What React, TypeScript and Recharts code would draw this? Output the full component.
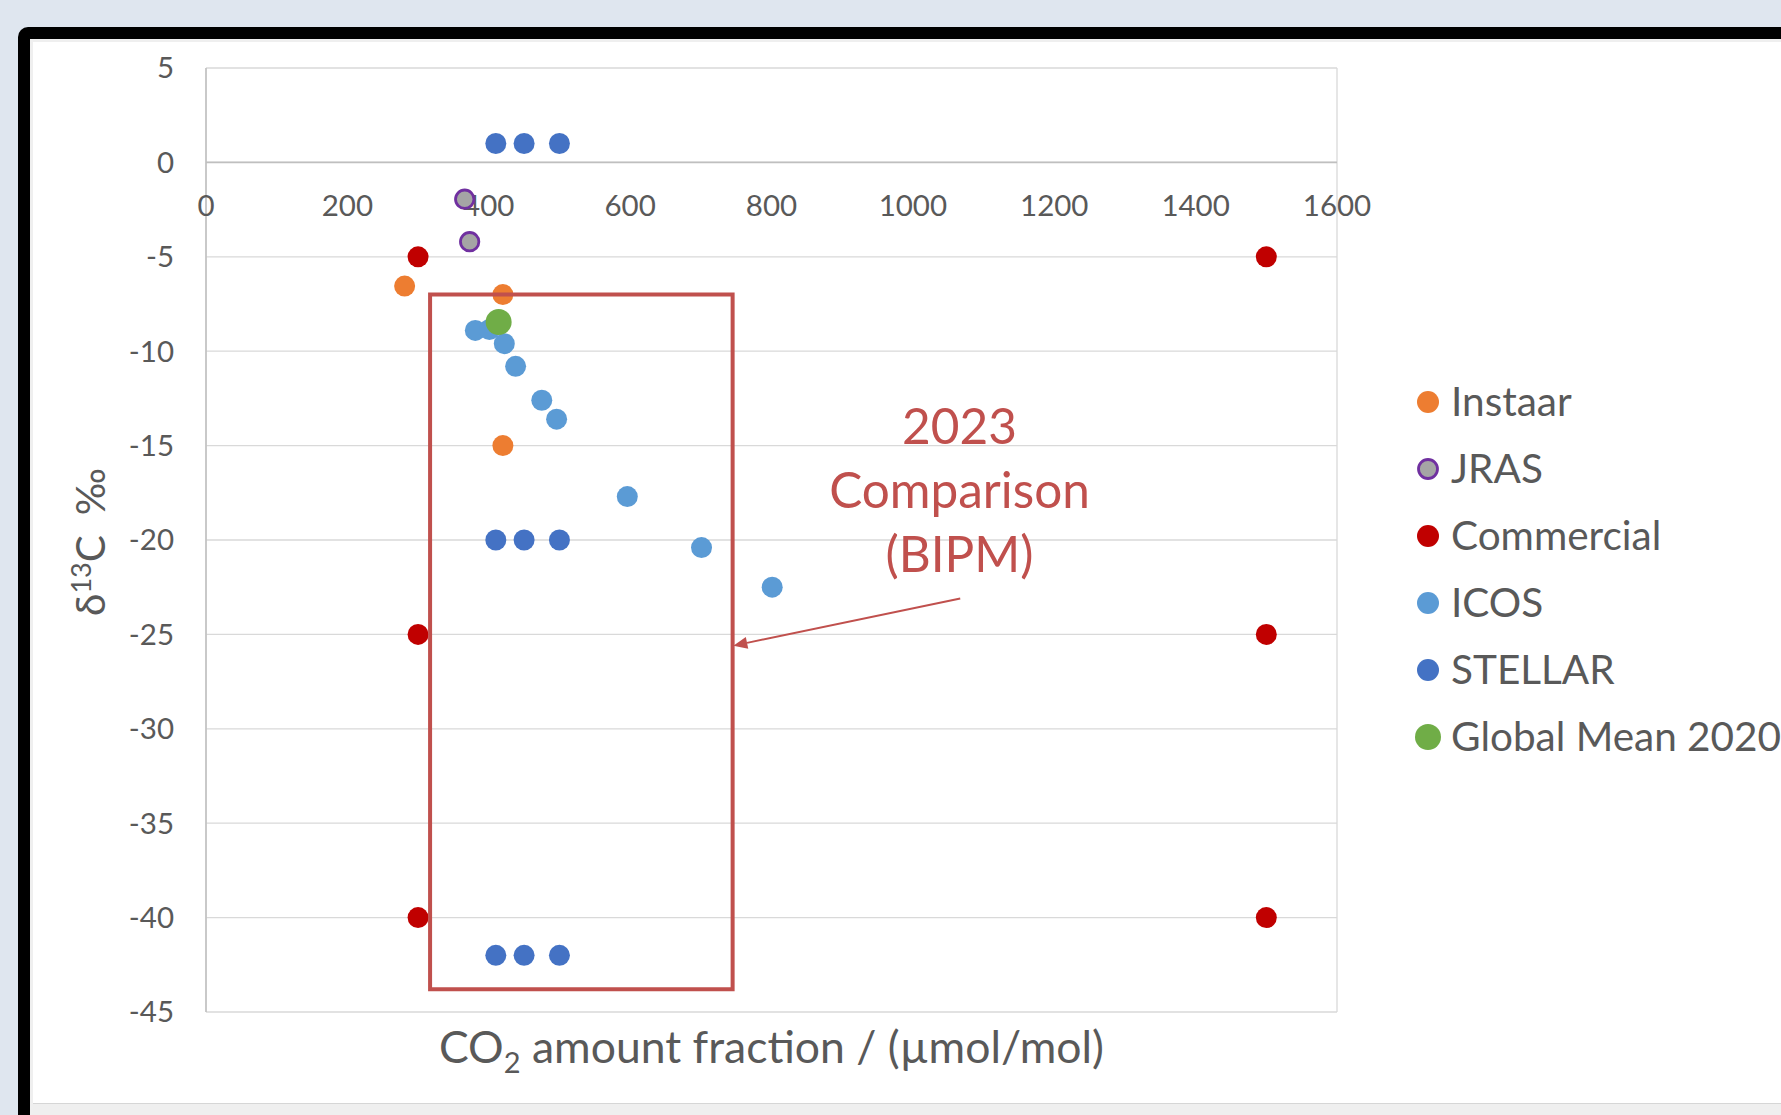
import React from 'react';
import {
  ScatterChart,
  Scatter,
  XAxis,
  YAxis,
  CartesianGrid,
  ReferenceLine,
  ReferenceArea,
  ReferenceDot,
  Legend,
} from 'recharts';

// ---------- data ----------
const xTicks = [0, 200, 400, 600, 800, 1000, 1200, 1400, 1600];
const yTicks = [-45, -40, -35, -30, -25, -20, -15, -10, -5, 0, 5];

const instaarData = [
  { x: 281, y: -6.55 },
  { x: 420, y: -7.0 },
  { x: 420, y: -15.0 },
];
const jrasData = [
  { x: 366, y: -1.95 },
  { x: 373, y: -4.2 },
];
const commercialData = [
  { x: 300, y: -5 },
  { x: 300, y: -25 },
  { x: 300, y: -40 },
  { x: 1500, y: -5 },
  { x: 1500, y: -25 },
  { x: 1500, y: -40 },
];
const icosData = [
  { x: 381, y: -8.9 },
  { x: 401, y: -8.85 },
  { x: 422, y: -9.6 },
  { x: 438, y: -10.8 },
  { x: 475, y: -12.6 },
  { x: 496, y: -13.6 },
  { x: 596, y: -17.7 },
  { x: 701, y: -20.4 },
  { x: 801, y: -22.5 },
];
const stellarData = [
  { x: 410, y: 1 },
  { x: 450, y: 1 },
  { x: 500, y: 1 },
  { x: 410, y: -20 },
  { x: 450, y: -20 },
  { x: 500, y: -20 },
  { x: 410, y: -42 },
  { x: 450, y: -42 },
  { x: 500, y: -42 },
];
const globalMeanData = [{ x: 414, y: -8.45 }];

const comparisonBox = { x1: 317, x2: 745, y1: -43.8, y2: -7.0 };
const annotationLines = ['2023', 'Comparison', '(BIPM)'];
const annotationAnchor = { x: 1066, y: -18.3 };
const arrowSegment = [
  { x: 1067, y: -23.1 },
  { x: 746, y: -25.6 },
];

// ---------- styles ----------
const FONT = 'Lato, "Open Sans", sans-serif';
const TEXT = '#595959';
const ANNOT = '#c0504d';

type SeriesDef = {
  name: string;
  data: { x: number; y: number }[];
  fill: string;
  stroke: string;
  sw: number;
  r: number;
};

const series: SeriesDef[] = [
  { name: 'Instaar', data: instaarData, fill: '#ed7d31', stroke: 'none', sw: 0, r: 10.5 },
  { name: 'JRAS', data: jrasData, fill: '#a5a5a5', stroke: '#7030a0', sw: 2.8, r: 9.2 },
  { name: 'Commercial', data: commercialData, fill: '#c00000', stroke: 'none', sw: 0, r: 10.5 },
  { name: 'ICOS', data: icosData, fill: '#5b9bd5', stroke: 'none', sw: 0, r: 10.5 },
  { name: 'STELLAR', data: stellarData, fill: '#4472c4', stroke: 'none', sw: 0, r: 10.5 },
  { name: 'Global Mean 2020', data: globalMeanData, fill: '#70ad47', stroke: 'none', sw: 0, r: 13 },
];

const XTitle = (props: any) => {
  const vb = props.viewBox || {};
  const cx = vb.x + vb.width / 2;
  const y = vb.y + 51;
  return (
    <text x={cx} y={y} textAnchor="middle" fill={TEXT} fontSize={44.5} fontFamily={FONT}>
      CO
      <tspan fontSize={29} dy={10}>2</tspan>
      <tspan dy={-10}> amount fraction / (µmol/mol)</tspan>
    </text>
  );
};

const YTitle = (props: any) => {
  const vb = props.viewBox || {};
  const x = vb.x + 105;
  const y = vb.y + vb.height / 2 + 2;
  return (
    <text
      x={x}
      y={y}
      textAnchor="middle"
      fill={TEXT}
      fontSize={40.5}
      fontFamily={FONT}
      transform={`rotate(-90, ${x}, ${y})`}
    >
      δ
      <tspan fontSize={27} dy={-14}>13</tspan>
      <tspan dy={14}>C</tspan>
      <tspan dx={20}>‰</tspan>
    </text>
  );
};

const Arrow = (p: any) => {
  const { x1, y1, x2, y2 } = p;
  const dx = x2 - x1;
  const dy = y2 - y1;
  const len = Math.hypot(dx, dy) || 1;
  const ux = dx / len;
  const uy = dy / len;
  const L = 14;
  const W = 6;
  const bx = x2 - ux * L;
  const by = y2 - uy * L;
  const pts = `${x2},${y2} ${bx - uy * W},${by + ux * W} ${bx + uy * W},${by - ux * W}`;
  return (
    <g>
      <line x1={x1} y1={y1} x2={bx} y2={by} stroke={ANNOT} strokeWidth={2} />
      <polygon points={pts} fill={ANNOT} />
    </g>
  );
};

const LegendContent = () => (
  <div style={{ fontFamily: FONT, color: TEXT, fontSize: 40.5 }}>
    {series.map((s) => (
      <div
        key={s.name}
        style={{ display: 'flex', alignItems: 'center', height: 67, whiteSpace: 'nowrap' }}
      >
        <svg width={26} height={26} style={{ flex: 'none' }}>
          <circle
            cx={13}
            cy={13}
            r={s.name === 'Global Mean 2020' ? 13 : s.sw ? 9.5 : 11}
            fill={s.fill}
            stroke={s.stroke}
            strokeWidth={s.sw}
          />
        </svg>
        <span style={{ marginLeft: 10, lineHeight: 1 }}>{s.name}</span>
      </div>
    ))}
  </div>
);

export default function App() {
  return (
    <div
      style={{
        position: 'absolute',
        left: 0,
        top: 0,
        width: 1781,
        height: 1115,
        overflow: 'hidden',
        background: '#dfe6ef',
      }}
    >
      {/* frame */}
      <div
        style={{
          position: 'absolute',
          left: 18,
          top: 27,
          width: 1800,
          height: 1120,
          background: '#000',
          borderTopLeftRadius: 10,
        }}
      />
      <div
        style={{
          position: 'absolute',
          left: 30,
          top: 39,
          width: 1800,
          height: 1120,
          background: '#efefef',
        }}
      />
      <div
        style={{
          position: 'absolute',
          left: 33,
          top: 42,
          width: 1800,
          height: 1061,
          background: '#fff',
          borderBottom: '1px solid #d6d6d6',
        }}
      />
      <div style={{ position: 'absolute', left: 0, top: 0 }}>
        <ScatterChart
          width={1781}
          height={1115}
          margin={{ top: 68, right: 444, bottom: 0, left: 0 }}
          style={{ fontFamily: FONT }}
        >
          <CartesianGrid stroke="#d9d9d9" strokeWidth={1.3} />
          <XAxis
            type="number"
            dataKey="x"
            domain={[0, 1600]}
            ticks={xTicks}
            allowDataOverflow
            height={103}
            tick={false}
            tickLine={false}
            axisLine={false}
            label={<XTitle />}
          />
          <YAxis
            type="number"
            dataKey="y"
            domain={[-45, 5]}
            ticks={yTicks}
            allowDataOverflow
            width={206}
            tickSize={0}
            tickMargin={32}
            tickLine={false}
            axisLine={{ stroke: '#bfbfbf', strokeWidth: 1.5 }}
            tick={{ fontSize: 29.5, fill: TEXT, fontFamily: FONT }}
            label={<YTitle />}
          />
          <ReferenceLine y={0} stroke="#bfbfbf" strokeWidth={1.6} />
          {xTicks.map((t) => (
            <ReferenceDot
              key={`xt-${t}`}
              x={t}
              y={0}
              r={0}
              fill="none"
              stroke="none"
              ifOverflow="visible"
              label={(p: any) => (
                <text
                  x={p.viewBox.x + (p.viewBox.width || 0) / 2}
                  y={p.viewBox.y + 54}
                  textAnchor="middle"
                  fill={TEXT}
                  fontSize={29.5}
                  fontFamily={FONT}
                >
                  {t}
                </text>
              )}
            />
          ))}
          {series.map((s) => (
            <Scatter
              key={s.name}
              name={s.name}
              data={s.data}
              fill={s.fill}
              isAnimationActive={false}
              shape={(p: any) => (
                <circle
                  cx={p.cx}
                  cy={p.cy}
                  r={s.r}
                  fill={s.fill}
                  stroke={s.stroke}
                  strokeWidth={s.sw}
                />
              )}
            />
          ))}
          <ReferenceArea
            x1={comparisonBox.x1}
            x2={comparisonBox.x2}
            y1={comparisonBox.y1}
            y2={comparisonBox.y2}
            fill="none"
            fillOpacity={0}
            stroke={ANNOT}
            strokeWidth={4}
            strokeOpacity={1}
            ifOverflow="visible"
            zIndex={700}
          />
          <ReferenceLine
            segment={arrowSegment}
            stroke={ANNOT}
            strokeWidth={2}
            ifOverflow="visible"
            shape={Arrow}
            zIndex={700}
          />
          <ReferenceDot
            x={annotationAnchor.x}
            y={annotationAnchor.y}
            r={0}
            fill="none"
            stroke="none"
            ifOverflow="visible"
            zIndex={700}
            label={(p: any) => {
              const cx = p.viewBox.x + (p.viewBox.width || 0) / 2;
              const cy = p.viewBox.y;
              return (
                <text
                  x={cx}
                  y={cy}
                  textAnchor="middle"
                  fill={ANNOT}
                  fontSize={49.5}
                  fontFamily={FONT}
                >
                  {annotationLines.map((line, i) => (
                    <tspan key={line} x={cx} dy={i === 0 ? -64 : 64}>
                      {line}
                    </tspan>
                  ))}
                </text>
              );
            }}
          />
          <Legend
            layout="vertical"
            align="center"
            verticalAlign="middle"
            wrapperStyle={{ left: 1415, top: 368, width: 420 }}
            content={<LegendContent />}
          />
        </ScatterChart>
      </div>
    </div>
  );
}
